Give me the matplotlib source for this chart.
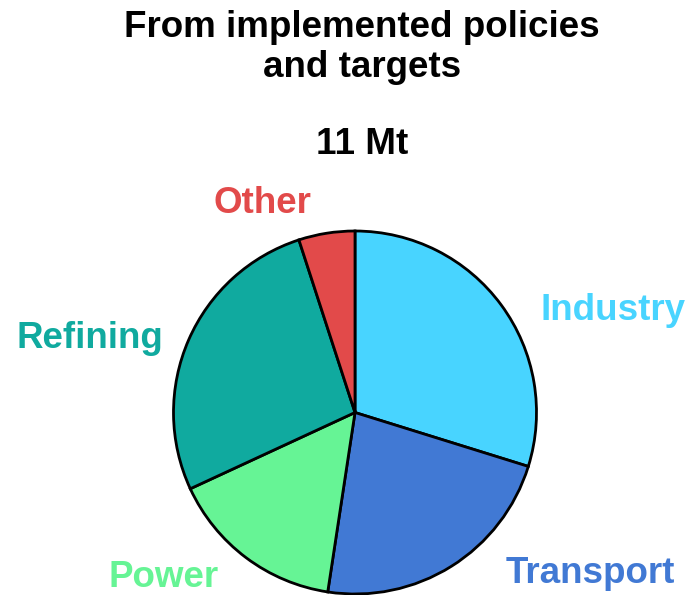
import matplotlib.pyplot as plt

plt.rcParams["font.family"] = ["Liberation Sans", "DejaVu Sans"]

# hydrogen demand by sector, share of total (%)
sectors = ["Industry", "Transport", "Power", "Refining", "Other"]
shares = [29.8, 22.6, 15.7, 26.9, 5.0]
colors = ["#48D4FF", "#4179D4", "#66F495", "#10AA9F", "#E24A4A"]
total_label = "11 Mt"

W, H = 692, 595
fig = plt.figure(figsize=(W / 100, H / 100), dpi=100)

# pie centred at (355, 412) px with radius 181 px
cx, cy, r = 355, 412.5, 181.5
ax = fig.add_axes([(cx - r) / W, (H - cy - r) / H, 2 * r / W, 2 * r / H])
ax.pie(shares, colors=colors, startangle=90, counterclock=False,
       wedgeprops=dict(edgecolor="black", linewidth=2))
ax.set_xlim(-1, 1)
ax.set_ylim(-1, 1)
ax.set_aspect("equal")
ax.axis("off")

# sector labels (pixel positions: centre x, baseline y)
label_pos = [(613, 320), (590, 583), (164, 587), (90, 348), (262, 213)]
for name, col, (px, py) in zip(sectors, colors, label_pos):
    fig.text(px / W, 1 - py / H, name, color=col, fontsize=26.5,
             fontweight="bold", ha="center", va="baseline")

title_size = 26.5
fig.text(362 / W, 1 - 37 / H, "From implemented policies", fontsize=title_size,
         fontweight="bold", ha="center", va="baseline")
fig.text(362 / W, 1 - 77 / H, "and targets", fontsize=title_size,
         fontweight="bold", ha="center", va="baseline")
fig.text(362 / W, 1 - 154 / H, total_label, fontsize=title_size,
         fontweight="bold", ha="center", va="baseline")

fig.savefig("out.png", dpi=100)
